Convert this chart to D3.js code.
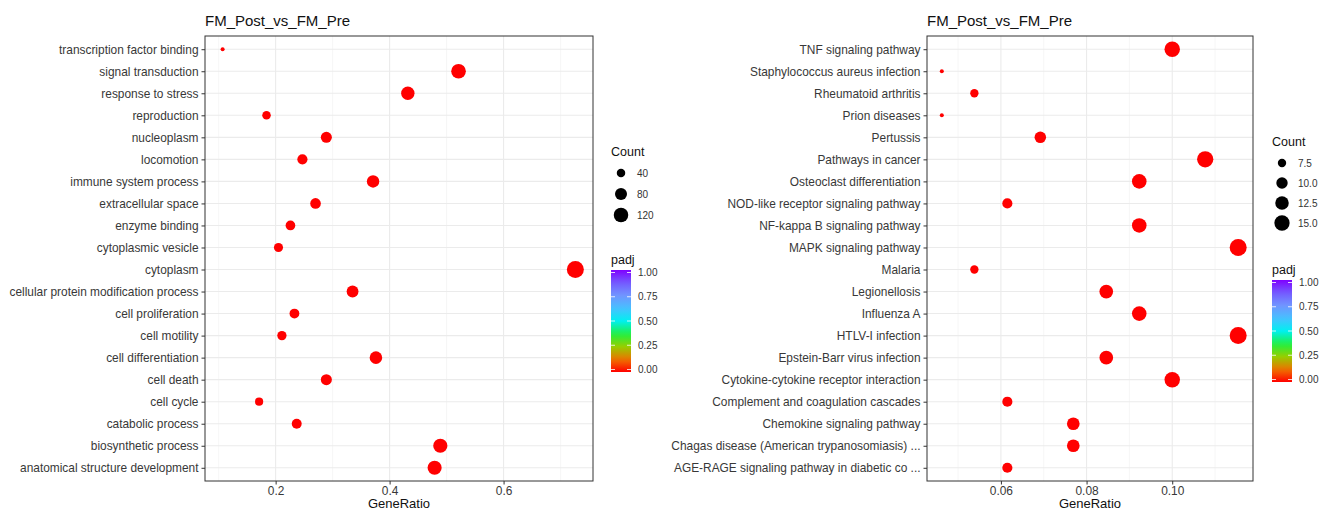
<!DOCTYPE html>
<html>
<head>
<meta charset="utf-8">
<script src="https://cdn.jsdelivr.net/npm/d3@7"></script>
<style>
  body { margin:0; background:#fff; }
  svg { font-family:"Liberation Sans", Arial, Helvetica, sans-serif; }
</style>
</head>
<body>
<svg width="1319" height="512"></svg>
<script>
// ---- left panel: GO terms ----
var goTerms = ["transcription factor binding","signal transduction","response to stress","reproduction",
  "nucleoplasm","locomotion","immune system process","extracellular space","enzyme binding",
  "cytoplasmic vesicle","cytoplasm","cellular protein modification process","cell proliferation",
  "cell motility","cell differentiation","cell death","cell cycle","catabolic process",
  "biosynthetic process","anatomical structure development"];
var goRatio = [0.107,0.521,0.432,0.184,0.289,0.247,0.371,0.270,0.226,0.205,0.726,0.335,0.233,
  0.211,0.376,0.289,0.171,0.237,0.489,0.479];
var goCount = [20,97,80,34,54,46,69,50,42,38,135,62,43,39,70,54,32,44,91,89];
var goPadj  = [0,0,0,0,0,0,0,0,0,0,0,0,0,0,0,0,0,0,0,0];
var goXTicks = [0.2,0.4,0.6];
var goSizeBreaks = [40,80,120];

// ---- right panel: KEGG pathways ----
var keggTerms = ["TNF signaling pathway","Staphylococcus aureus infection","Rheumatoid arthritis",
  "Prion diseases","Pertussis","Pathways in cancer","Osteoclast differentiation",
  "NOD-like receptor signaling pathway","NF-kappa B signaling pathway","MAPK signaling pathway",
  "Malaria","Legionellosis","Influenza A","HTLV-I infection","Epstein-Barr virus infection",
  "Cytokine-cytokine receptor interaction","Complement and coagulation cascades",
  "Chemokine signaling pathway","Chagas disease (American trypanosomiasis) ...",
  "AGE-RAGE signaling pathway in diabetic co ..."];
var keggRatio = [0.1000,0.0462,0.0538,0.0462,0.0692,0.1077,0.0923,0.0615,0.0923,0.1154,
  0.0538,0.0846,0.0923,0.1154,0.0846,0.1000,0.0615,0.0769,0.0769,0.0615];
var keggCount = [13,6,7,6,9,14,12,8,12,15,7,11,12,15,11,13,8,10,10,8];
var keggPadj  = [0,0,0,0,0,0,0,0,0,0,0,0,0,0,0,0,0,0,0,0];
var keggXTicks = [0.06,0.08,0.10];
var keggSizeBreaks = [7.5,10,12.5,15];

var padjBreaks = [0,0.25,0.5,0.75,1];
var title = "FM_Post_vs_FM_Pre";

var svg = d3.select("svg");

// rainbow-ish padj palette
var colors = d3.scaleLinear()
  .domain([0,0.12,0.25,0.37,0.5,0.62,0.75,0.88,1])
  .range(["#FF0000","#F07000","#95CF00","#20F040","#00F0F0","#45C2FF","#7095FF","#7458FF","#8000FF"]);

var drawPanel = function(opt)
{
  var terms = opt.terms, ratio = opt.ratio, count = opt.count, padj = opt.padj;
  var box = opt.box;

  var g = svg.append("g");

  // x range with ggplot-like 5% expansion
  var ext = d3.extent(ratio);
  var pad = (ext[1]-ext[0])*0.05;
  var xScale = d3.scaleLinear().domain([ext[0]-pad, ext[1]+pad]).range([box.left, box.right]);
  var yScale = d3.scalePoint().domain(terms).range([box.top, box.bottom]).padding(0.6);

  var cExt = d3.extent(count);
  var rLin = d3.scaleSqrt().domain([0, cExt[1]-cExt[0]]).range([0, 6.5]);
  var rScale = function(v) { return 2 + rLin(Math.max(0, v-cExt[0])); };

  // background + grid
  g.append("rect").attr("x",box.left).attr("y",box.top)
    .attr("width",box.right-box.left).attr("height",box.bottom-box.top).attr("fill","#fff");

  var minor = [];
  var step = opt.xTicks[1]-opt.xTicks[0];
  for (var t = opt.xTicks[0]-step/2; t < xScale.domain()[1]; t += step)
    if (t > xScale.domain()[0]) minor.push(t);

  g.selectAll(".minor").data(minor).enter().append("line")
    .attr("x1",function(d){return xScale(d)}).attr("x2",function(d){return xScale(d)})
    .attr("y1",box.top).attr("y2",box.bottom)
    .attr("stroke","#f2f2f2").attr("stroke-width",0.7);
  g.selectAll(".vgrid").data(opt.xTicks).enter().append("line")
    .attr("x1",function(d){return xScale(d)}).attr("x2",function(d){return xScale(d)})
    .attr("y1",box.top).attr("y2",box.bottom)
    .attr("stroke","#ebebeb").attr("stroke-width",1.1);
  g.selectAll(".hgrid").data(terms).enter().append("line")
    .attr("x1",box.left).attr("x2",box.right)
    .attr("y1",function(d){return yScale(d)}).attr("y2",function(d){return yScale(d)})
    .attr("stroke","#ebebeb").attr("stroke-width",1.1);

  // points
  g.selectAll("circle.pt").data(terms).enter().append("circle")
    .attr("cx",function(d,i){return xScale(ratio[i])})
    .attr("cy",function(d){return yScale(d)})
    .attr("r",function(d,i){return rScale(count[i])})
    .attr("fill",function(d,i){return colors(padj[i])});

  // border
  g.append("rect").attr("x",box.left).attr("y",box.top)
    .attr("width",box.right-box.left).attr("height",box.bottom-box.top)
    .attr("fill","none").attr("stroke","#333").attr("stroke-width",1);

  // axes
  var yAxis = d3.axisLeft(yScale).tickSize(3.5).tickPadding(3);
  var ya = g.append("g").attr("transform","translate("+box.left+",0)").call(yAxis);
  var xAxis = d3.axisBottom(xScale).tickValues(opt.xTicks).tickSize(3.5).tickPadding(2)
    .tickFormat(opt.fmt);
  var xa = g.append("g").attr("transform","translate(0,"+box.bottom+")").call(xAxis);
  [ya,xa].forEach(function(a)
  {
    a.select(".domain").remove();
    a.selectAll(".tick line").attr("stroke","#333");
    a.selectAll(".tick text").attr("fill","#383838").attr("font-size",11.9)
      .attr("font-family","Liberation Sans, Arial, sans-serif");
  });

  g.append("text").attr("x",box.left).attr("y",26).text(title)
    .attr("font-size",15).attr("fill","#111");
  g.append("text").attr("x",(box.left+box.right)/2).attr("y",508)
    .attr("text-anchor","middle").attr("font-size",13).attr("fill","#111").text("GeneRatio");

  // size legend (keys a touch smaller than the plot marks, as in the source)
  var lg = opt.legend;
  g.append("text").attr("x",lg.x).attr("y",lg.countY+4).attr("font-size",12.5)
    .attr("fill","#111").text("Count");
  var keys = g.selectAll(".key").data(opt.sizeBreaks).enter().append("g")
    .attr("transform",function(d,i){return "translate("+(lg.x+10)+","+(lg.countY+21+i*lg.keyStep)+")"});
  keys.append("circle").attr("r",function(d){return rScale(d)*0.9}).attr("fill","#000");
  keys.append("text").attr("x",16).attr("y",3.5).attr("font-size",10).attr("fill","#333")
    .text(function(d){return opt.sizeFmt(d)});

  // colour bar
  g.append("text").attr("x",lg.x).attr("y",lg.padjY+4).attr("font-size",12.5)
    .attr("fill","#111").text("padj");
  var barTop = lg.padjY+10, barH = 102, barW = 20;
  var cScale = d3.scaleLinear().domain([1,0]).range([barTop+2.5, barTop+barH-2.5]);
  var gid = "grad"+opt.id;
  var grad = svg.append("defs").append("linearGradient").attr("id",gid)
    .attr("x1",0).attr("y1",1).attr("x2",0).attr("y2",0);
  d3.range(0,1.0001,0.05).forEach(function(v)
  {
    grad.append("stop").attr("offset",v).attr("stop-color",colors(v));
  });
  g.append("rect").attr("x",lg.x).attr("y",barTop).attr("width",barW).attr("height",barH)
    .attr("fill","url(#"+gid+")");
  g.selectAll(".cb").data(padjBreaks).enter().append("path")
    .attr("d",function(d){var y=cScale(d); return "M"+lg.x+","+y+"h4M"+(lg.x+barW-4)+","+y+"h4"})
    .attr("stroke","#fff").attr("stroke-width",1).attr("opacity",0.8);
  g.selectAll(".cbl").data(padjBreaks).enter().append("text")
    .attr("x",lg.x+27).attr("y",function(d){return cScale(d)+3.5})
    .attr("font-size",10).attr("fill","#333").text(d3.format(".2f"));
}

drawPanel({
  id:"go", terms:goTerms, ratio:goRatio, count:goCount, padj:goPadj,
  box:{left:205,right:593,top:36,bottom:481},
  xTicks:goXTicks, fmt:d3.format(".1f"),
  sizeBreaks:goSizeBreaks, sizeFmt:d3.format("d"),
  legend:{x:611, countY:152, keyStep:21, padjY:260}
});

drawPanel({
  id:"kegg", terms:keggTerms, ratio:keggRatio, count:keggCount, padj:keggPadj,
  box:{left:927,right:1253,top:36,bottom:481},
  xTicks:keggXTicks, fmt:d3.format(".2f"),
  sizeBreaks:keggSizeBreaks, sizeFmt:d3.format(".1f"),
  legend:{x:1272, countY:142, keyStep:20, padjY:270}
});
</script>
</body>
</html>
